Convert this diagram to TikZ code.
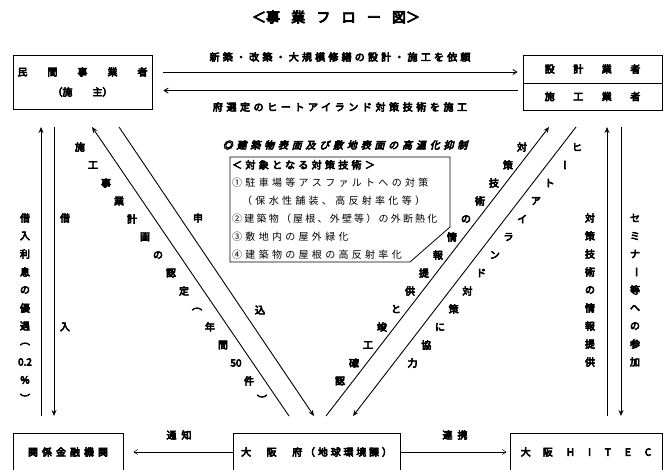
\documentclass[tikz,border=0pt]{standalone}
\usepackage{graphicx}
\usepackage{fontspec}
\setmainfont{Noto Sans CJK JP}[
    BoldFont={Noto Sans CJK JP}, BoldFeatures={FakeBold=6},
    ItalicFont={Noto Sans CJK JP}, ItalicFeatures={FakeSlant=0.25},
    BoldItalicFont={Noto Sans CJK JP}, BoldItalicFeatures={FakeBold=6,FakeSlant=0.25}]
\usetikzlibrary{
    arrows.meta,
    positioning
}
\newcommand{\vbar}{\rotatebox[origin=c]{-90}{ー}}
\newcommand{\ls}[1]{\addfontfeature{LetterSpace=#1}}
\tikzset{
    box/.style={draw, line width=0.8pt, inner sep=0pt, align=center,
        font=\bfseries\fontsize{10}{20}\selectfont},
    lbl/.style={inner sep=0pt, font=\bfseries\fontsize{10}{12}\selectfont},
    line/.style={line width=0.9pt},
    arr/.style={line width=0.9pt, -{Stealth[length=6pt,width=5pt]}},
    harr/.style={line width=0.9pt, -{Straight Barb[length=4pt,width=5pt]}},
    thinarr/.style={line width=0.5pt, -{Straight Barb[length=4pt,width=5pt]}}
}

\begin{document}
\begin{tikzpicture}[x=1pt, y=-1pt]
    \useasboundingbox (0,0) rectangle (669,469);
    \clip (0,0) rectangle (669,469);
    \node[lbl, font=\bfseries\fontsize{14}{16}\selectfont] (title) at (336,17)
        {＜事\hspace{0.8em}業\hspace{0.8em}フ\hspace{0.8em}ロ\hspace{0.8em}ー\hspace{0.8em}図＞};

    % boxes
    \node[box, minimum width=139pt, minimum height=54pt] (minkan) at (82.5,82)
        {民\hspace{2em}間\hspace{2em}事\hspace{2em}業\hspace{2em}者\\（施\hspace{2em}主）};
    \node[box, minimum width=139pt, minimum height=28pt] (sekkei) at (592.5,69)
        {設\hspace{1.85em}計\hspace{1.85em}業\hspace{1.85em}者};
    \node[box, minimum width=139pt, minimum height=27pt] (sekou) at (592.5,96.5)
        {施\hspace{1.85em}工\hspace{1.85em}業\hspace{1.85em}者};
    \node[box, minimum width=110pt, minimum height=38pt] (kinyu) at (68,452)
        {\ls{40}関係金融機関};
    \node[box, minimum width=167pt, minimum height=38pt] (osaka) at (316.5,452)
        {\ls{28}大　阪　府（地球環境課）};
    \node[box, minimum width=152pt, minimum height=38pt] (hitec) at (586,452)
        {大\hspace{12pt}阪\hspace{14pt}H\hspace{14pt}I\hspace{14pt}T\hspace{14pt}E\hspace{14pt}C};

    % top arrows
    \draw[harr] ([xshift=11pt,yshift=-3pt]minkan.east |- sekkei.west) -- ([xshift=-5pt,yshift=-3pt]sekkei.west);
    \draw[harr] ([xshift=-5pt,yshift=6pt]sekou.west) -- ([xshift=11pt,yshift=6pt]minkan.east |- sekou.west);
    \node[lbl, font=\bfseries\fontsize{10}{12}\selectfont\ls{32}] (irai) at (340,57)
        {新築・改築・大規模修繕の設計・施工を依頼};
    \node[lbl, font=\bfseries\fontsize{10}{12}\selectfont\ls{36}] (sekoulbl) at (340,107)
        {府選定のヒートアイランド対策技術を施工};

    % bottom arrows
    \draw[thinarr] (osaka.west) -- ([xshift=10pt]kinyu.east);
    \draw[thinarr] (osaka.east) -- ([xshift=-3pt]hitec.west);
    \node[lbl, font=\bfseries\fontsize{10}{12}\selectfont\ls{50}] (tsuchi) at (179,435) {通知};
    \node[lbl, font=\bfseries\fontsize{10}{12}\selectfont\ls{50}] (renkei) at (455,435) {連携};

    % vertical and diagonal arrows
    \coordinate (lv1a) at (41,416);  \coordinate (lv1b) at (41,127);
    \coordinate (lv2a) at (54,127);  \coordinate (lv2b) at (54,416);
    \coordinate (ld1a) at (289,416); \coordinate (ld1b) at (92,127);
    \coordinate (ld2a) at (119,127); \coordinate (ld2b) at (314,416);
    \coordinate (rd1a) at (326,416); \coordinate (rd1b) at (549,127);
    \coordinate (rd2a) at (576,127); \coordinate (rd2b) at (353,416);
    \coordinate (rv1a) at (607,416); \coordinate (rv1b) at (607,127);
    \coordinate (rv2a) at (621,127); \coordinate (rv2b) at (621,416);
    \draw[arr] (lv1a) -- (lv1b);
    \draw[arr] (lv2a) -- (lv2b);
    \draw[arr] (ld1a) -- (ld1b);
    \draw[arr] (ld2a) -- (ld2b);
    \draw[arr] (rd1a) -- (rd1b);
    \draw[arr] (rd2a) -- (rd2b);
    \draw[arr] (rv1a) -- (rv1b);
    \draw[arr] (rv2a) -- (rv2b);

    % texts along the arrows
    \foreach \c [count=\i from 0] in {借,入,利,息,の,優,遇,︵,0.2,\%,︶}
        \node[lbl] (rishi\i) at (25,218+18*\i) {\c};
    \node[lbl] (kari) at (65,218) {借};
    \node[lbl] (ire) at (65,327) {入};
    \foreach \c [count=\i from 0] in {施,工,事,業,計,画,の,認,定,︵,年,間,50,件,︶}
        \node[lbl] (nintei\i) at (80+13*\i,147+18*\i) {\c};
    \node[lbl] (mou) at (198,218) {申};
    \node[lbl] (komi) at (260,310) {込};
    \foreach \c [count=\i from 0] in {対,策,技,術,の,情,報,提,供,と,竣,工,確,認}
        \node[lbl] (kakunin\i) at (522-14*\i,147+18*\i) {\c};
    \foreach \c [count=\i from 0] in {ヒ,\vbar,ト,ア,イ,ラ,ン,ド,対,策,に,協,力}
        \node[lbl] (kyoryoku\i) at (577-13.7*\i,147+18*\i) {\c};
    \foreach \c [count=\i from 0] in {対,策,技,術,の,情,報,提,供}
        \node[lbl] (joho\i) at (590,218+18*\i) {\c};
    \foreach \c [count=\i from 0] in {セ,ミ,ナ,\vbar,等,へ,の,参,加}
        \node[lbl] (semi\i) at (635,218+18*\i) {\c};

    % technology box
    \node[lbl, font=\bfseries\itshape\fontsize{10}{12}\selectfont\ls{38}] (yokusei) at (345,145)
        {◎建築物表面及び敷地表面の高温化抑制};
    \draw[line width=0.8pt] (230,157) -- (450,157) -- (450,227) -- (410,262) -- (230,262) -- cycle;
    \node[inner sep=0pt, anchor=north west, align=left,
        font=\fontsize{10}{18}\selectfont\ls{33}] (tech) at (232,160)
        {{\bfseries ＜対象となる対策技術＞}\\
         ①駐車場等アスファルトへの対策\\
         \hspace*{1em}（保水性舗装、高反射率化等）\\
         {\ls{22}②建築物（屋根、外壁等）の外断熱化}\\
         ③敷地内の屋外緑化\\
         ④建築物の屋根の高反射率化};
\end{tikzpicture}
\end{document}
